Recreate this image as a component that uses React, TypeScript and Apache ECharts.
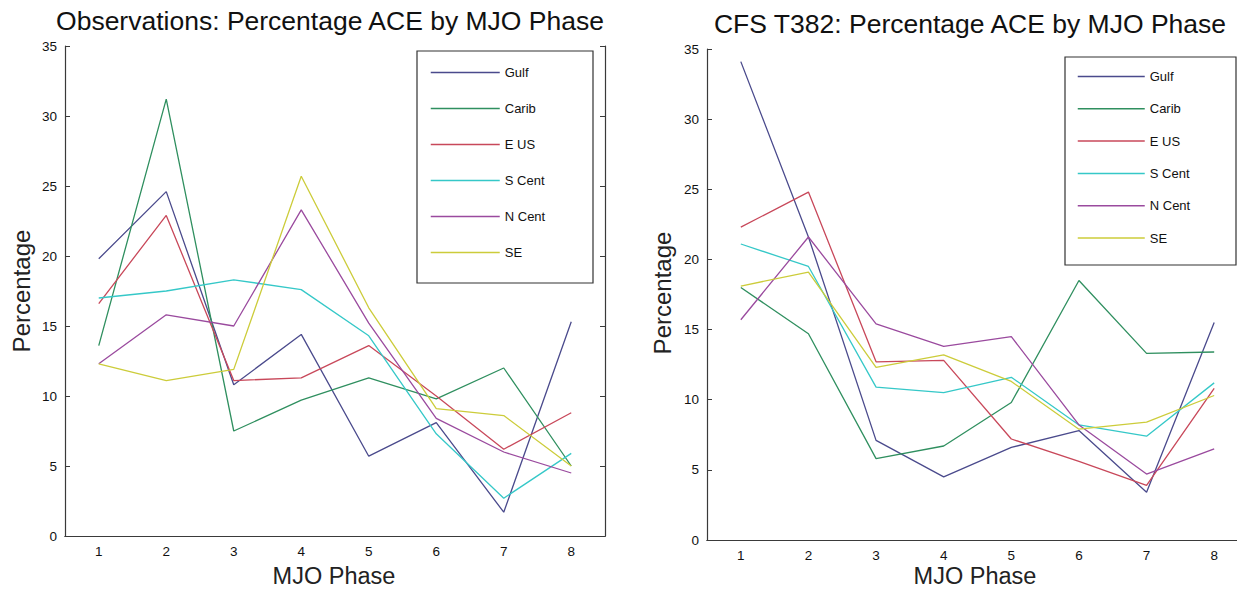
import React, { useEffect, useRef } from "react";
import * as echarts from "echarts";

const phases = ["1", "2", "3", "4", "5", "6", "7", "8"];
const regionNames = ["Gulf", "Carib", "E US", "S Cent", "N Cent", "SE"];
const regionColors = ["#4a4a8c", "#2f8f5f", "#c8485a", "#35c8c8", "#9a4a9e", "#cccc3a"];

// Observations
const obsGulf = [19.8, 24.6, 10.8, 14.4, 5.7, 8.1, 1.7, 15.3];
const obsCarib = [13.6, 31.2, 7.5, 9.7, 11.3, 9.8, 12.0, 5.0];
const obsEUS = [16.6, 22.9, 11.1, 11.3, 13.6, 10.0, 6.2, 8.8];
const obsSCent = [17.0, 17.5, 18.3, 17.6, 14.3, 7.3, 2.7, 5.9];
const obsNCent = [12.3, 15.8, 15.0, 23.3, 15.2, 8.4, 6.0, 4.5];
const obsSE = [12.3, 11.1, 11.9, 25.7, 16.3, 9.1, 8.6, 5.0];

// CFS T382
const cfsGulf = [34.1, 21.6, 7.1, 4.5, 6.6, 7.8, 3.4, 15.5];
const cfsCarib = [18.0, 14.7, 5.8, 6.7, 9.8, 18.5, 13.3, 13.4];
const cfsEUS = [22.3, 24.8, 12.7, 12.8, 7.2, 5.6, 3.9, 10.8];
const cfsSCent = [21.1, 19.5, 10.9, 10.5, 11.6, 8.2, 7.4, 11.2];
const cfsNCent = [15.7, 21.6, 15.4, 13.8, 14.5, 8.2, 4.7, 6.5];
const cfsSE = [18.1, 19.1, 12.3, 13.2, 11.3, 7.9, 8.4, 10.3];

const obsSeries = [obsGulf, obsCarib, obsEUS, obsSCent, obsNCent, obsSE];
const cfsSeries = [cfsGulf, cfsCarib, cfsEUS, cfsSCent, cfsNCent, cfsSE];

const titles = [
  "Observations: Percentage ACE by MJO Phase",
  "CFS T382: Percentage ACE by MJO Phase",
];
const xAxisTitle = "MJO Phase";
const yAxisTitle = "Percentage";
const yMin = 0;
const yMax = 35;
const yStep = 5;

const FONT = '"Liberation Sans", Arial, Helvetica, sans-serif';
const AXIS_COLOR = "#3a3a3a";

export default function App() {
  const ref = useRef<HTMLDivElement>(null);

  useEffect(() => {
    if (!ref.current) return;
    const chart = echarts.init(ref.current, undefined, { renderer: "svg" });

    const grids = [
      { left: 65, top: 46, width: 540, height: 490 },
      { left: 707, top: 49, width: 541, height: 491 },
    ];

    const tick = { inside: true, length: 5, lineStyle: { color: AXIS_COLOR, width: 1 } };
    const axisLine = { show: true, lineStyle: { color: AXIS_COLOR, width: 1.2 } };
    const label = { fontSize: 13.5, color: "#111", fontFamily: FONT };

    const xAxes: any[] = [];
    const yAxes: any[] = [];
    grids.forEach((_, g) => {
      xAxes.push({
        gridIndex: g,
        type: "category",
        data: phases,
        boundaryGap: true,
        position: "bottom",
        axisLine,
        axisTick: { ...tick, alignWithLabel: true },
        axisLabel: { ...label, margin: 8 },
        splitLine: { show: false },
      });
      xAxes.push({
        gridIndex: g,
        type: "category",
        data: phases,
        boundaryGap: true,
        position: "top",
        axisLine,
        axisTick: { ...tick, alignWithLabel: true },
        axisLabel: { show: false },
        splitLine: { show: false },
      });
      yAxes.push({
        gridIndex: g,
        type: "value",
        min: yMin,
        max: yMax,
        interval: yStep,
        position: "left",
        axisLine,
        axisTick: { ...tick, show: true },
        axisLabel: { ...label, margin: 8 },
        splitLine: { show: false },
      });
      yAxes.push({
        gridIndex: g,
        type: "value",
        min: yMin,
        max: yMax,
        interval: yStep,
        position: "right",
        axisLine,
        axisTick: { ...tick, show: true },
        axisLabel: { show: false },
        splitLine: { show: false },
      });
    });

    const series: any[] = [];
    [obsSeries, cfsSeries].forEach((set, g) => {
      set.forEach((vals, i) => {
        series.push({
          type: "line",
          name: regionNames[i],
          xAxisIndex: 2 * g,
          yAxisIndex: 2 * g,
          data: vals,
          symbol: "none",
          color: regionColors[i],
          lineStyle: { width: 1.3, color: regionColors[i] },
        });
      });
    });

    const legendBase = {
      data: regionNames,
      orient: "vertical",
      itemHeight: 14,
      itemTextGap: 6,
      selectedMode: false,
      itemStyle: { opacity: 0 },
      lineStyle: { width: 1.5 },
      textStyle: { fontSize: 13, color: "#111", fontFamily: FONT },
      padding: 0,
    };

    chart.setOption({
      animation: false,
      backgroundColor: "#ffffff",
      grid: grids,
      xAxis: xAxes,
      yAxis: yAxes,
      series,
      legend: [
        { ...legendBase, left: 430, top: 66, itemWidth: 69, itemGap: 23 },
        { ...legendBase, left: 1077, top: 70, itemWidth: 67, itemGap: 19.3 },
      ],
      graphic: [
        {
          type: "rect",
          shape: { x: 417, y: 51, width: 176, height: 232 },
          style: { fill: "none", stroke: "#333", lineWidth: 1.2 },
          z: 5,
        },
        {
          type: "rect",
          shape: { x: 1065, y: 57, width: 171, height: 208 },
          style: { fill: "none", stroke: "#333", lineWidth: 1.2 },
          z: 5,
        },
        {
          type: "text",
          x: 330,
          y: 21,
          style: { text: titles[0], fontSize: 26.5, fontFamily: FONT, fill: "#111", align: "center", verticalAlign: "middle" },
        },
        {
          type: "text",
          x: 970,
          y: 24,
          style: { text: titles[1], fontSize: 26.5, fontFamily: FONT, fill: "#111", align: "center", verticalAlign: "middle" },
        },
        {
          type: "text",
          x: 21,
          y: 291,
          rotation: Math.PI / 2,
          style: { text: yAxisTitle, fontSize: 24, fontFamily: FONT, fill: "#222", align: "center", verticalAlign: "middle" },
        },
        {
          type: "text",
          x: 662,
          y: 293,
          rotation: Math.PI / 2,
          style: { text: yAxisTitle, fontSize: 24, fontFamily: FONT, fill: "#222", align: "center", verticalAlign: "middle" },
        },
        {
          type: "text",
          x: 334,
          y: 576,
          style: { text: xAxisTitle, fontSize: 23.5, fontFamily: FONT, fill: "#222", align: "center", verticalAlign: "middle" },
        },
        {
          type: "text",
          x: 975,
          y: 576,
          style: { text: xAxisTitle, fontSize: 23.5, fontFamily: FONT, fill: "#222", align: "center", verticalAlign: "middle" },
        },
      ],
    });

    return () => {
      chart.dispose();
    };
  }, []);

  return (
    <div style={{ position: "absolute", left: 0, top: 0, width: 1237, height: 590, overflow: "hidden", background: "#fff" }}>
      <div ref={ref} style={{ width: 1260, height: 590 }} />
    </div>
  );
}
